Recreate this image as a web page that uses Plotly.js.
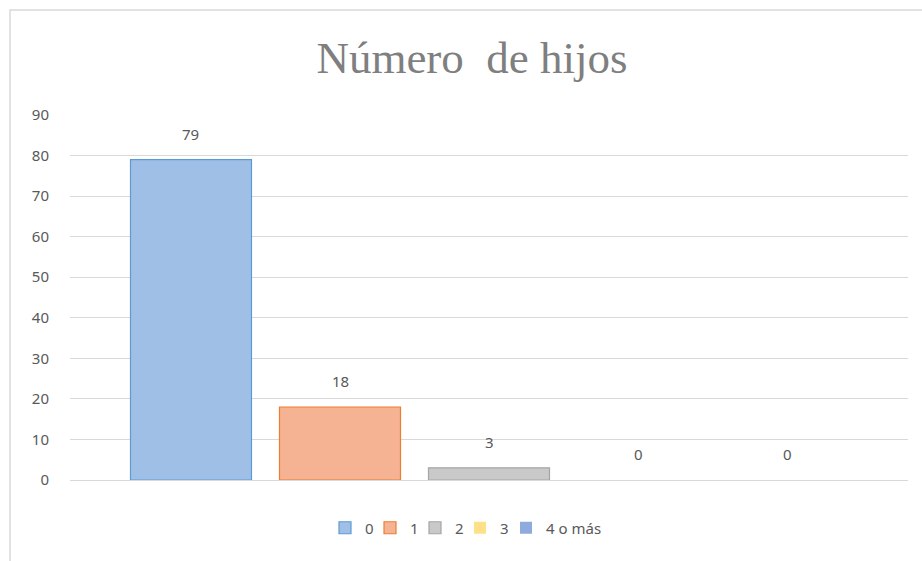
<!DOCTYPE html>
<html><head><meta charset="utf-8">
<script src="https://cdn.plot.ly/plotly-3.0.1.min.js"></script>
<style>html,body{margin:0;padding:0;background:#fff}#chart{width:922px;height:561px}</style>
</head><body><div id="chart"></div>
<script>
const categories = ["0", "1", "2", "3", "4 o más"];
const values = [79, 18, 3, 0, 0];
const fillColors = ["#a0bfe6", "#f5b394", "#c9c9c9", "#ffe08a", "#8faadc"];
const lineColors = ["#5b9bd5", "#ed7d31", "#a5a5a5", "#ffc000", "#4472c4"];
const titleText = "Número  de hijos";

const W = 922, H = 561;
const m = {l: 70, r: 14, t: 115, b: 81};
const pw = W - m.l - m.r, ph = H - m.t - m.b;
const labelFont = {family: "Noto Sans, sans-serif", size: 15, color: "#595959"};
const legendSwatchLeft = [340, 385, 430, 475, 521];
const legendIds = ["legend", "legend2", "legend3", "legend4", "legend5"];

const traces = categories.map((c, i) => ({
  type: "bar", x: [c], y: [values[i]], name: c, width: 0.812, legend: legendIds[i],
  marker: {color: fillColors[i], line: {color: lineColors[i], width: values[i] === 0 ? 0 : 1.2}},
  hoverinfo: "none"
}));

const annotations = categories.map((c, i) => ({
  x: c, y: values[i], xref: "x", yref: "y", text: String(values[i]),
  showarrow: false, yanchor: "middle", yshift: 26, font: labelFont
}));

const layout = {
  width: W, height: H, margin: m, paper_bgcolor: "#fff", plot_bgcolor: "#fff",
  barmode: "overlay", showlegend: true,
  title: {text: titleText, x: 472 / W, xref: "container", xanchor: "center",
    y: 1 - 57 / H, yref: "container", yanchor: "middle",
    font: {family: "Liberation Serif, serif", size: 45, color: "#7f7f7f"}},
  xaxis: {type: "category", range: [-0.812, 4.812], showticklabels: false, showgrid: false,
    zeroline: false, showline: false, ticks: "", fixedrange: true},
  yaxis: {range: [0, 90], dtick: 10, showgrid: true, gridcolor: "#d9d9d9", gridwidth: 1,
    zeroline: true, zerolinecolor: "#d9d9d9", zerolinewidth: 1, showline: false, ticks: "",
    ticklabelstandoff: 20, tickfont: labelFont},
  annotations: annotations,
  shapes: [{type: "rect", xref: "paper", yref: "paper",
    x0: (10 - m.l) / pw, x1: (W + 20 - m.l) / pw,
    y0: -(H + 20 - (H - m.b)) / ph, y1: 1 + (m.t - 10) / ph,
    line: {color: "#d9d9d9", width: 1.5}, fillcolor: "rgba(0,0,0,0)", layer: "below"}]
};
legendIds.forEach((id, i) => {
  layout[id] = {orientation: "h", x: (legendSwatchLeft[i] - 15 - m.l) / pw, xanchor: "left",
    y: (480 - 528) / ph, yanchor: "middle", font: labelFont, itemwidth: 30,
    bgcolor: "rgba(0,0,0,0)"};
});

Plotly.newPlot("chart", traces, layout, {displayModeBar: false, staticPlot: true});
</script></body></html>
